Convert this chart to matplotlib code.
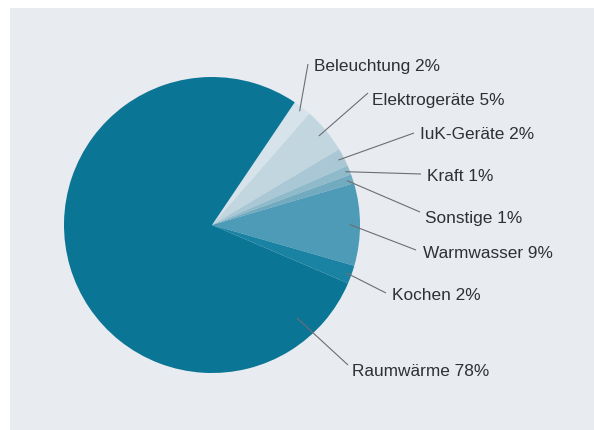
import numpy as np
import matplotlib
matplotlib.use("Agg")
import matplotlib.pyplot as plt
from matplotlib.patches import Rectangle

# Energy use by application (percent)
labels = ["Beleuchtung", "Elektrogeräte", "IuK-Geräte", "Kraft",
          "Sonstige", "Warmwasser", "Kochen", "Raumwärme"]
shares = [2, 5, 2, 1, 1, 9, 2, 78]
colors = ["#d6e3ea", "#c2d6df", "#a9c7d4", "#8fbaca",
          "#72aac0", "#4d9bb6", "#1a82a2", "#0b7596"]

W, H = 594, 430
fig = plt.figure(figsize=(W / 100, H / 100), dpi=100, facecolor="white")

ax = fig.add_axes([0, 0, 1, 1])
ax.set_facecolor("none")

cx, cy, R = 212, H - 225, 148
wedges, _ = ax.pie(shares, colors=colors, startangle=56, counterclock=False,
                   center=(cx, cy), radius=R,
                   wedgeprops=dict(linewidth=0, zorder=2))
ax.set_xlim(0, W)
ax.set_ylim(0, H)
ax.set_aspect("equal")
ax.axis("off")

# light grey panel behind the chart
ax.add_patch(Rectangle((10, 0), W - 10, H - 8, facecolor="#e8ebf0",
                       edgecolor="none", zorder=0))

# label layout: text left edge / baseline (pixels from top-left)
text_pos = [(314, 71), (372, 105), (420, 139), (427, 181),
            (425, 223), (423, 258), (392, 300), (352, 376)]
line_end = [(308, 64), (368, 93), (414, 133), (421, 174),
            (420, 212), (416, 250), (386, 293), (348, 365)]
anchor_frac = [0.97, 0.94, 0.96, 0.97, 0.96, 0.93, 0.96, 0.85]

for i, (w, lab, val) in enumerate(zip(wedges, labels, shares)):
    if lab == "Raumwärme":
        ang = np.deg2rad(-47.6)
    else:
        ang = np.deg2rad((w.theta1 + w.theta2) / 2)
    r = R * anchor_frac[i]
    x0, y0 = cx + r * np.cos(ang), cy + r * np.sin(ang)
    x1, y1 = line_end[i][0], H - line_end[i][1]
    ax.plot([x0, x1], [y0, y1], color="#6b6e72", linewidth=0.8,
            solid_capstyle="butt", zorder=3)
    tx, ty = text_pos[i]
    ax.text(tx, H - ty, f"{lab} {val}%", ha="left", va="baseline",
            fontsize=12.4, family="Liberation Sans", color="#2e3033",
            zorder=4)

fig.savefig("out.png", dpi=100, facecolor="white")
